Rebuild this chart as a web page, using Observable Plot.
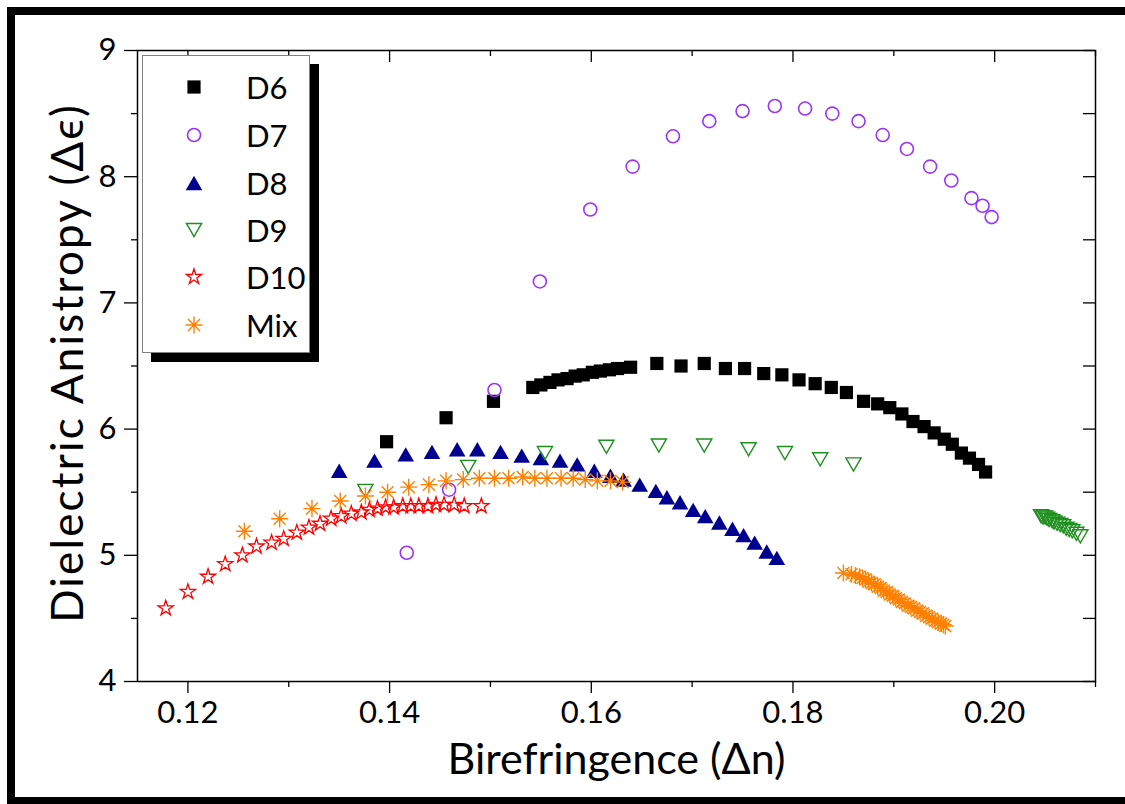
<!DOCTYPE html>
<html><head><meta charset="utf-8">
<script src="https://cdn.jsdelivr.net/npm/d3@7"></script>
<script src="https://cdn.jsdelivr.net/npm/@observablehq/plot@0.6"></script>
<style>
html,body{margin:0;padding:0;background:#fff;overflow:hidden;}
#wrap{position:relative;width:1125px;height:804px;overflow:hidden;font-family:Lato,"Open Sans",sans-serif;}
#border{position:absolute;left:7px;top:7px;width:1200px;height:798px;border:8px solid #000;box-sizing:border-box;pointer-events:none;}
#legend{position:absolute;left:142px;top:55px;width:168px;height:298px;box-sizing:border-box;border:1.5px solid #808080;background:#fff;box-shadow:9px 9px 0 #000;}
.lrow{position:absolute;left:0;height:40px;width:160px;}
.lrow svg{position:absolute;left:35px;top:4px;}
.lrow span{position:absolute;left:103px;top:0;line-height:40px;font-size:31px;color:#000;}
</style>
</head><body>
<div id="wrap"><div id="chart"></div><div id="legend"></div><div id="border"></div></div>
<script>
// ---- data (Birefringence Δn, Dielectric anisotropy Δε) ----
const d6 = [[0.1397,5.90],[0.1456,6.09],[0.1503,6.22],
 [0.1542,6.33],[0.1550,6.35],[0.1559,6.37],[0.1567,6.39],[0.1576,6.40],[0.1584,6.42],[0.1592,6.43],[0.1601,6.45],[0.1609,6.46],[0.1618,6.47],[0.1626,6.48],
 [0.1639,6.49],[0.1665,6.52],[0.1689,6.50],[0.1712,6.52],[0.1733,6.48],[0.1752,6.48],[0.1771,6.44],[0.1789,6.43],[0.1806,6.39],[0.1822,6.36],[0.1838,6.33],[0.1853,6.29],
 [0.1870,6.22],[0.1884,6.20],[0.1896,6.17],[0.1908,6.12],[0.1919,6.06],[0.1930,6.02],[0.1940,5.97],[0.1950,5.92],[0.1958,5.88],[0.1967,5.81],[0.1975,5.77],[0.1984,5.72],[0.1991,5.66]];
const d7 = [[0.1417,5.02],[0.1459,5.52],[0.1504,6.31],[0.1549,7.17],[0.1599,7.74],[0.1641,8.08],[0.1681,8.32],[0.1717,8.44],[0.1750,8.52],[0.1782,8.56],
 [0.1812,8.54],[0.1839,8.50],[0.1865,8.44],[0.1889,8.33],[0.1913,8.22],[0.1936,8.08],[0.1957,7.97],[0.1977,7.83],[0.1988,7.77],[0.1997,7.68]];
const d8 = [[0.1350,5.67],[0.1385,5.75],[0.1416,5.80],[0.1442,5.82],[0.1467,5.84],[0.1487,5.84],[0.1510,5.82],[0.1531,5.79],[0.1550,5.77],[0.1569,5.75],
 [0.1586,5.72],[0.1603,5.67],[0.1619,5.63],[0.1632,5.60],[0.1648,5.56],[0.1664,5.51],[0.1675,5.46],[0.1688,5.42],[0.1701,5.36],[0.1713,5.31],
 [0.1727,5.26],[0.1740,5.21],[0.1751,5.16],[0.1762,5.10],[0.1774,5.03],[0.1784,4.98]];
const d9 = [[0.1376,5.51],[0.1478,5.70],[0.1554,5.81],[0.1615,5.86],[0.1667,5.87],[0.1712,5.87],[0.1756,5.84],[0.1792,5.81],[0.1827,5.76],[0.1860,5.72],
 [0.2046,5.31],[0.2048,5.30],[0.2050,5.30],[0.2052,5.29],[0.2054,5.28],[0.2057,5.27],[0.2059,5.26],[0.2062,5.25],[0.2065,5.24],[0.2068,5.23],
 [0.2071,5.21],[0.2074,5.20],[0.2077,5.19],[0.2081,5.17],[0.2085,5.15]];
const d10 = [[0.1178,4.58],[0.1200,4.71],[0.1220,4.83],[0.1237,4.93],[0.1254,5.00],[0.1268,5.07],[0.1283,5.10],[0.1295,5.13],[0.1308,5.18],[0.1320,5.22],
 [0.1331,5.25],[0.1342,5.29],[0.1352,5.31],[0.1362,5.33],[0.1372,5.34],[0.1380,5.36],[0.1388,5.37],[0.1396,5.38],[0.1404,5.38],[0.1413,5.39],
 [0.1421,5.39],[0.1429,5.39],[0.1438,5.39],[0.1446,5.40],[0.1454,5.40],[0.1464,5.40],[0.1474,5.39],[0.1491,5.39]];
const mix = [[0.1256,5.19],[0.1291,5.29],[0.1323,5.37],[0.1351,5.43],[0.1376,5.47],[0.1398,5.50],[0.1419,5.54],[0.1439,5.56],[0.1456,5.59],[0.1473,5.60],
 [0.1489,5.61],[0.1504,5.61],[0.1518,5.61],[0.1532,5.62],[0.1544,5.61],[0.1556,5.61],[0.1570,5.61],[0.1582,5.61],[0.1594,5.60],[0.1606,5.59],
 [0.1619,5.59],[0.1631,5.58],
 [0.1850,4.86],[0.1858,4.85],[0.1862,4.84],[0.1866,4.83],[0.1869,4.82],[0.1872,4.81],[0.1875,4.79],[0.1878,4.78],[0.1881,4.77],[0.1884,4.75],
 [0.1887,4.74],[0.1890,4.72],[0.1893,4.71],[0.1896,4.69],[0.1899,4.68],[0.1902,4.66],[0.1905,4.65],[0.1908,4.63],[0.1911,4.62],[0.1914,4.60],
 [0.1917,4.59],[0.1920,4.58],[0.1923,4.56],[0.1926,4.55],[0.1929,4.54],[0.1932,4.52],[0.1935,4.51],[0.1938,4.50],[0.1941,4.48],[0.1944,4.47],
 [0.1947,4.46],[0.1949,4.45],[0.1951,4.44]];
const seriesNames = ["D6","D7","D8","D9","D10","Mix"];
const xTicks = [0.12,0.14,0.16,0.18,0.20];
const xMinor = [0.13,0.15,0.17,0.19,0.21];
const yTicks = [4,5,6,7,8,9];
const yMinor = [4.5,5.5,6.5,7.5,8.5];
const xTitle = "Birefringence (Δn)";
const yTitle = "Dielectric Anistropy (Δϵ)";

// ---- symbols ----
const rOf = s => Math.sqrt(s / Math.PI);
const symSquare = {draw(c, s){const r = rOf(s); c.rect(-r, -r, 2*r, 2*r);}};
const symTriUp = {draw(c, s){const r = rOf(s), h = 1.73*r; c.moveTo(0, -h/2); c.lineTo(r, h/2); c.lineTo(-r, h/2); c.closePath();}};
const symTriDown = {draw(c, s){const r = rOf(s), h = 1.73*r; c.moveTo(-r, -h/2); c.lineTo(r, -h/2); c.lineTo(0, h/2); c.closePath();}};
const symAst = {draw(c, s){const r = rOf(s), q = r*Math.SQRT1_2;
  c.moveTo(0,-r); c.lineTo(0,r); c.moveTo(-r,0); c.lineTo(r,0);
  c.moveTo(-q,-q); c.lineTo(q,q); c.moveTo(-q,q); c.lineTo(q,-q);}};

const styles = {
  D6: {symbol: symSquare, r: 6.6, fill: "#000", stroke: "none"},
  D7: {symbol: "circle", r: 6.5, fill: "none", stroke: "#9933ff", strokeWidth: 1.6},
  D8: {symbol: symTriUp, r: 8.3, fill: "#000090", stroke: "none"},
  D9: {symbol: symTriDown, r: 7.6, fill: "none", stroke: "#1f8f1f", strokeWidth: 1.4},
  D10: {symbol: d3.symbolStar, r: 4.8, fill: "none", stroke: "#ff0000", strokeWidth: 1.3},
  Mix: {symbol: symAst, r: 8.5, fill: "none", stroke: "#ff8000", strokeWidth: 1.4}
};
const dataBy = {D6: d6, D7: d7, D8: d8, D9: d9, D10: d10, Mix: mix};

const W = 1125, H = 804, mL = 137, mR = 30, mT = 50, mB = 123;
const pw = W - mL - mR, ph = H - mT - mB;

const chart = Plot.plot({
  width: W, height: H,
  marginLeft: mL, marginRight: mR, marginTop: mT, marginBottom: mB,
  style: {fontFamily: "Lato, 'Open Sans', sans-serif", color: "#000", background: "transparent", overflow: "visible"},
  x: {domain: [0.115, 0.21]},
  y: {domain: [4, 9]},
  marks: [
    Plot.axisX(xTicks, {anchor: "bottom", tickSize: 12, tickPadding: 7, tickFormat: d3.format(".2f"), fontSize: 31, label: null, strokeWidth: 1.3}),
    Plot.axisX(xMinor, {anchor: "bottom", tickSize: 6, tickFormat: () => "", label: null, strokeWidth: 1.3}),
    Plot.axisY(yTicks, {anchor: "left", tickSize: 13, tickPadding: 8, tickFormat: d3.format("d"), fontSize: 31, label: null, strokeWidth: 1.3}),
    Plot.axisY(yMinor, {anchor: "left", tickSize: 6, tickFormat: () => "", label: null, strokeWidth: 1.3}),
    Plot.tickX(xTicks, {x: d => d, insetBottom: ph - 12, stroke: "#000", strokeWidth: 1.3}),
    Plot.tickX(xMinor, {x: d => d, insetBottom: ph - 6, stroke: "#000", strokeWidth: 1.3}),
    Plot.tickY(yTicks.concat(yMinor), {y: d => d, insetLeft: pw - 12, stroke: "#000", strokeWidth: 1.3}),
    Plot.frame({stroke: "#000", strokeWidth: 1.5}),
    ...seriesNames.map(n => Plot.dot(dataBy[n], {x: d => d[0], y: d => d[1], ...styles[n]})),
    Plot.text([xTitle], {frameAnchor: "bottom", dy: 79, textAnchor: "middle", lineAnchor: "middle", fontSize: 43, fill: "#000"}),
    Plot.text([yTitle], {frameAnchor: "left", rotate: -90, dx: -69, dy: -3, textAnchor: "middle", lineAnchor: "middle", fontSize: 44, fill: "#000", className: "ytitle"})
  ]
});
d3.select(chart).selectAll(".ytitle text").attr("letter-spacing", "2.2px");
document.getElementById("chart").appendChild(chart);

// ---- legend ----
const leg = d3.select("#legend");
const rowsY = [32, 80, 128, 175, 222, 270];
seriesNames.forEach((n, i) => {
  const st = styles[n];
  const row = leg.append("div").attr("class", "lrow").style("top", (rowsY[i] - 20 - 1.5) + "px");
  const svg = row.append("svg").attr("width", 32).attr("height", 32);
  const type = typeof st.symbol === "string" ? d3.symbolCircle : st.symbol;
  svg.append("path")
    .attr("transform", "translate(16,16)")
    .attr("d", d3.symbol(type, Math.PI * st.r * st.r)())
    .attr("fill", st.fill).attr("stroke", st.stroke).attr("stroke-width", st.strokeWidth || 0);
  row.append("span").text(n);
});
</script>
</body></html>
